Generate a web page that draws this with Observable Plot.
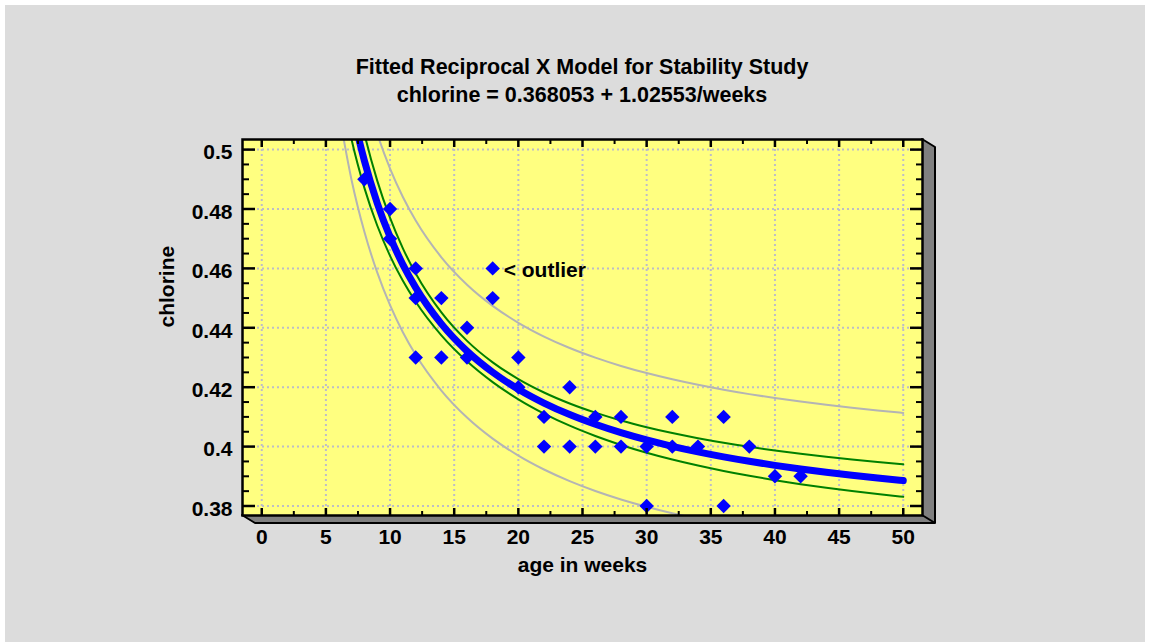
<!DOCTYPE html>
<html><head><meta charset="utf-8">
<script src="https://cdn.jsdelivr.net/npm/d3@7"></script>
<script src="https://cdn.jsdelivr.net/npm/@observablehq/plot@0.6"></script>
<style>
html,body{margin:0;padding:0;background:#fff;width:1150px;height:642px;overflow:hidden;}
#panel{position:absolute;left:5px;top:5px;width:1140px;height:637px;background:#dcdcdc;}
#chart{position:absolute;left:0;top:0;}
#title{position:absolute;left:242px;width:680px;top:53px;text-align:center;font:bold 21.5px 'Liberation Sans',Arial,sans-serif;line-height:28px;color:#000;z-index:2;}
</style></head><body>
<div id="panel"></div>
<div id="chart"></div>
<div id="title"><div>Fitted Reciprocal X Model for Stability Study</div><div>chlorine = 0.368053 + 1.02553/weeks</div></div>
<script>
// observed points
const weeks    = [8, 10, 10, 12, 12, 12, 14, 14, 16, 16, 18, 18, 20, 20, 22, 22, 24, 24, 26, 26, 28, 28, 30, 30, 32, 32, 34, 36, 36, 38, 40, 42];
const chlorine = [0.49, 0.48, 0.47, 0.46, 0.45, 0.43, 0.45, 0.43, 0.44, 0.43, 0.46, 0.45, 0.43, 0.42, 0.41, 0.40, 0.42, 0.40, 0.41, 0.40, 0.41, 0.40, 0.40, 0.38, 0.41, 0.40, 0.40, 0.41, 0.38, 0.40, 0.39, 0.39];

// fitted curve and limits
const curveWeeks = [6, 7, 8, 9, 10, 11, 12, 14, 16, 18, 20, 22, 24, 26, 28, 30, 32, 34, 36, 38, 40, 42, 44, 46, 48, 50];
const fitted     = [0.53898, 0.51456, 0.49624, 0.48200, 0.47061, 0.46128, 0.45351, 0.44131, 0.43215, 0.42503, 0.41933, 0.41467, 0.41078, 0.40750, 0.40468, 0.40224, 0.40010, 0.39822, 0.39654, 0.39504, 0.39369, 0.39247, 0.39136, 0.39035, 0.38942, 0.38856];
const confUpper  = [0.55296, 0.52574, 0.50536, 0.48956, 0.47698, 0.46674, 0.45827, 0.44517, 0.43559, 0.42836, 0.42273, 0.41822, 0.41452, 0.41143, 0.40880, 0.40654, 0.40456, 0.40283, 0.40129, 0.39992, 0.39869, 0.39758, 0.39657, 0.39566, 0.39481, 0.39404];
const confLower  = [0.52500, 0.50338, 0.48712, 0.47444, 0.46424, 0.45582, 0.44875, 0.43745, 0.42871, 0.42170, 0.41593, 0.41112, 0.40704, 0.40357, 0.40056, 0.39794, 0.39564, 0.39361, 0.39179, 0.39016, 0.38869, 0.38736, 0.38615, 0.38504, 0.38403, 0.38308];
const predUpper  = [0.56513, 0.53933, 0.52015, 0.50536, 0.49361, 0.48404, 0.47612, 0.46374, 0.45452, 0.44738, 0.44169, 0.43705, 0.43319, 0.42995, 0.42716, 0.42475, 0.42265, 0.42080, 0.41915, 0.41767, 0.41635, 0.41515, 0.41407, 0.41308, 0.41217, 0.41133];
const predLower  = [0.51283, 0.48979, 0.47233, 0.45864, 0.44761, 0.43852, 0.43090, 0.41888, 0.40978, 0.40268, 0.39697, 0.39229, 0.38837, 0.38505, 0.38220, 0.37973, 0.37755, 0.37564, 0.37393, 0.37241, 0.37103, 0.36979, 0.36865, 0.36762, 0.36667, 0.36579];

// axes
const xDomain = [-1.5, 51.5];
const yDomain = [0.3768, 0.5034];
const xMajorTicks = [0, 5, 10, 15, 20, 25, 30, 35, 40, 45, 50];
const xMinorTicks = [2.5, 7.5, 12.5, 17.5, 22.5, 27.5, 32.5, 37.5, 42.5, 47.5];
const yMajorTicks = [0.38, 0.40, 0.42, 0.44, 0.46, 0.48, 0.50];
const yTickLabels = ["0.38", "0.4", "0.42", "0.44", "0.46", "0.48", "0.5"];
const yMinorTicks = [0.385, 0.39, 0.395, 0.405, 0.41, 0.415, 0.425, 0.43, 0.435, 0.445, 0.45, 0.455, 0.465, 0.47, 0.475, 0.485, 0.49, 0.495];
const xLabel = "age in weeks";
const yLabel = "chlorine";
const annotations = [{week: 18, value: 0.46, text: "< outlier"}];

const points = weeks.map((w, i) => ({w, c: chlorine[i]}));
const curve = curveWeeks.map((w, i) => ({w, fit: fitted[i], cu: confUpper[i], cl: confLower[i], pu: predUpper[i], pl: predLower[i]}));

function slab(index, scales, values, dims) {
  const {width, height, marginLeft, marginRight, marginTop, marginBottom} = dims;
  const x0 = marginLeft, x1 = width - marginRight, y0 = marginTop, y1 = height - marginBottom, dx = 13, dy = 8;
  const g = d3.create("svg:g");
  g.append("path")
    .attr("d", `M${x0},${y1}L${x0+dx},${y1+dy}L${x1+dx},${y1+dy}L${x1+dx},${y0+dy}L${x1},${y0}L${x1},${y1}Z`)
    .attr("fill", "#808080").attr("stroke", "#000").attr("stroke-width", 2).attr("stroke-linejoin", "round");
  g.append("line").attr("x1", x1).attr("y1", y1).attr("x2", x1 + dx).attr("y2", y1 + dy)
    .attr("stroke", "#000").attr("stroke-width", 2);
  return g.node();
}

const yFmt = d => yTickLabels[yMajorTicks.findIndex(v => Math.abs(v - d) < 1e-9)];

const chart = Plot.plot({
  width: 1150, height: 642,
  marginLeft: 242, marginRight: 228, marginTop: 139, marginBottom: 127,
  x: {domain: xDomain, label: null},
  y: {domain: yDomain, label: null},
  style: {fontFamily: "'Liberation Sans', Arial, sans-serif", fontSize: "21px", fontWeight: "bold", color: "#000", background: "transparent", overflow: "visible"},
  marks: [
    slab,
    Plot.frame({fill: "#ffff80"}),
    Plot.gridX(xMajorTicks, {stroke: "#bdbdc8", strokeOpacity: 1, strokeWidth: 2, strokeDasharray: "2,3"}),
    Plot.gridY(yMajorTicks, {stroke: "#bdbdc8", strokeOpacity: 1, strokeWidth: 2, strokeDasharray: "2,3"}),
    Plot.line(curve, {x: "w", y: "pu", stroke: "#b4b4b4", strokeWidth: 2, curve: "monotone-x", clip: true}),
    Plot.line(curve, {x: "w", y: "pl", stroke: "#b4b4b4", strokeWidth: 2, curve: "monotone-x", clip: true}),
    Plot.line(curve, {x: "w", y: "cu", stroke: "#008000", strokeWidth: 2, curve: "monotone-x", clip: true}),
    Plot.line(curve, {x: "w", y: "cl", stroke: "#008000", strokeWidth: 2, curve: "monotone-x", clip: true}),
    Plot.line(curve, {x: "w", y: "fit", stroke: "#0000ff", strokeWidth: 7, curve: "monotone-x", clip: true}),
    Plot.dot(points, {x: "w", y: "c", symbol: "diamond2", r: 6.5, fill: "#0000ff", stroke: "none"}),
    Plot.text(annotations, {x: "week", y: "value", text: "text", textAnchor: "start", dx: 11, dy: 2, fontSize: 21, fontWeight: "bold", fill: "#000"}),
    Plot.frame({stroke: "#000", strokeWidth: 2.5}),
    // inward ticks
    Plot.axisX(xMajorTicks, {anchor: "bottom", tickSize: 7, dy: -7, fill: "none", strokeWidth: 2.5, label: null}),
    Plot.axisX(xMinorTicks, {anchor: "bottom", tickSize: 4, dy: -4, fill: "none", strokeWidth: 2, label: null}),
    Plot.axisX(xMajorTicks, {anchor: "top", tickSize: 7, dy: 7, fill: "none", strokeWidth: 2.5, label: null}),
    Plot.axisX(xMinorTicks, {anchor: "top", tickSize: 4, dy: 4, fill: "none", strokeWidth: 2, label: null}),
    Plot.axisY(yMajorTicks, {anchor: "left", tickSize: 13, dx: 13, fill: "none", strokeWidth: 2.5, label: null}),
    Plot.axisY(yMinorTicks, {anchor: "left", tickSize: 7, dx: 7, fill: "none", strokeWidth: 2, label: null}),
    Plot.axisY(yMajorTicks, {anchor: "right", tickSize: 13, dx: -13, fill: "none", strokeWidth: 2.5, label: null}),
    Plot.axisY(yMinorTicks, {anchor: "right", tickSize: 7, dx: -7, fill: "none", strokeWidth: 2, label: null}),
    // tick labels
    Plot.axisX(xMajorTicks, {anchor: "bottom", tickSize: 0, tickPadding: 14, label: null}),
    Plot.axisY(yMajorTicks, {anchor: "left", tickSize: 0, tickPadding: 10, dy: 3, tickFormat: yFmt, label: null}),
    // axis titles
    Plot.text([yLabel], {text: d => d, frameAnchor: "left", dx: -75, rotate: -90, fontSize: 21, fontWeight: "bold", fill: "#000"}),
    Plot.text([xLabel], {text: d => d, frameAnchor: "bottom", dy: 56, fontSize: 21, fontWeight: "bold", fill: "#000"})
  ]
});
document.getElementById("chart").appendChild(chart);
</script></body></html>
